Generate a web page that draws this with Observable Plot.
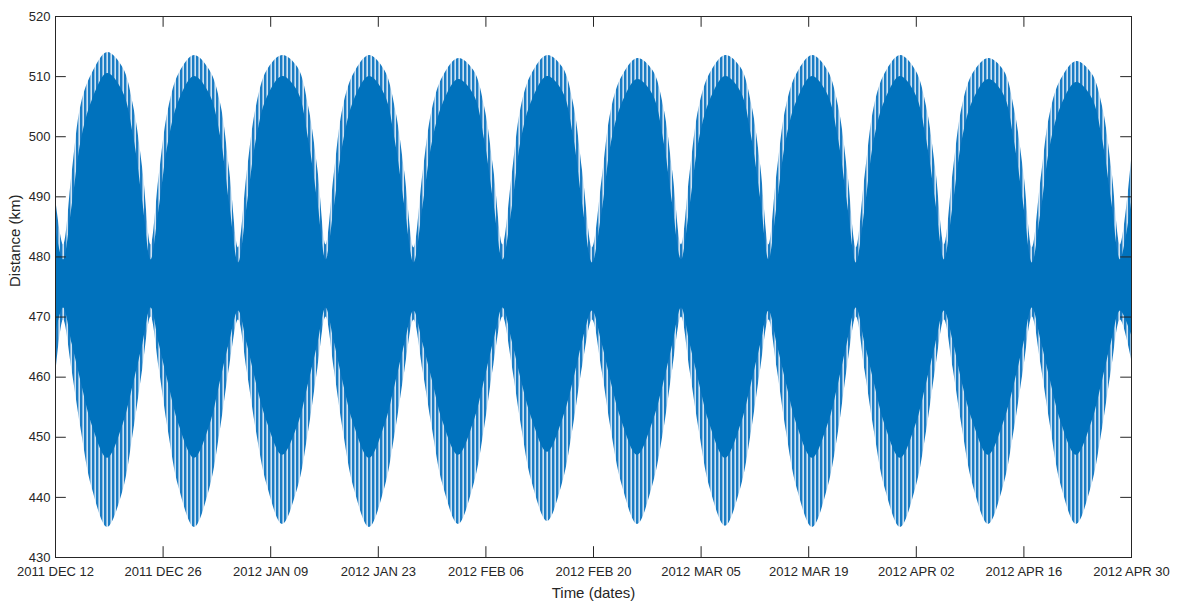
<!DOCTYPE html>
<html>
<head>
<meta charset="utf-8">
<script src="https://cdn.jsdelivr.net/npm/d3@7"></script>
<script src="https://cdn.jsdelivr.net/npm/@observablehq/plot@0.6"></script>
<style>
  html, body { margin: 0; padding: 0; background: #fff; }
  #chart { width: 1178px; height: 601px; }
  svg { font-family: "Liberation Sans", Arial, sans-serif; }
</style>
</head>
<body>
<div id="chart"></div>
<script>
// ---- Data ----
// time axis: days after 2011 DEC 12 00:00
const dayOffset = [0, 1.04,
  2.17,3.37,4.77,6.77,8.77,10.17,11.37, 12.43,
  13.49,14.69,16.09,18.09,20.09,21.49,22.69, 23.81,
  24.94,26.14,27.54,29.54,31.54,32.94,34.14, 35.2,
  36.25,37.45,38.85,40.85,42.85,44.25,45.45, 46.64,
  47.83,49.03,50.43,52.43,54.43,55.83,57.03, 58.22,
  59.41,60.61,62.01,64.01,66.01,67.41,68.61, 69.87,
  71.13,72.33,73.73,75.73,77.73,79.13,80.33, 81.45,
  82.57,83.77,85.17,87.17,89.17,90.57,91.77, 92.83,
  93.89,95.09,96.49,98.49,100.49,101.89,103.09, 104.2,
  105.34,106.54,107.94,109.94,111.94,113.34,114.54, 115.66,
  116.79,117.99,119.39,121.39,123.39,124.79,125.99, 127.1,
  128.24,129.44,130.84,132.84,134.84,136.24,137.44, 138.57,
  140];

// outer (spike tips) envelope, km
const upperSpike = [490, 482,
  494,505.5,510.5,514,511.5,505,494.5, 482,
  493.5,504.5,510.5,513.5,511,505.5,494, 481.5,
  494,505,511,513.5,511.5,505,494.5, 482,
  493.5,505,510.5,513.5,511,504.5,494, 481.5,
  494,504.5,510,513,511,505,494.5, 482,
  493.5,505,510.5,513.5,511.5,505.5,494, 481.5,
  493,504.5,510,513,511,505,494, 482,
  494,505,510.5,513.5,511.5,505.5,495, 482,
  494,505,510.5,513.5,511,505,494, 481.5,
  493.5,505,510.5,513.5,511,505,494.5, 482,
  494,505,510.5,513,511,504.5,494, 481.5,
  493,504,509.5,512.5,510.5,505,494.5, 482,
  496];

const lowerSpike = [460, 469.5,
  461,451,441.5,435,441,451,461.5, 470,
  461.5,451,441.5,435,441.5,451.5,462, 469.5,
  461,451,442,435.5,441.5,451,461.5, 470,
  461.5,451,441.5,435,441.5,451,461, 469.5,
  461,451.5,442,435.5,442,451.5,462, 470,
  462,452,442.5,436,442.5,452,462, 469.5,
  461,451,442,435.5,442,451,461.5, 470,
  461,451,441.5,435.2,441.5,451,461.5, 469.5,
  461.5,451,441.5,435,441.5,451,462, 470,
  461,451,441.5,435,441.5,451,461.5, 469.5,
  461.5,451.5,442,435.5,442,451.5,461.5, 470,
  462,452,442,435.5,442,451.5,461.5, 469.5,
  463];

// dense (solid) core envelope, km
const upperCore = [485, 479.5,
  488.5,499.5,506,510.5,507.5,500,489, 479.5,
  488,499,506,510,507,500,488.5, 479,
  488.5,499.5,506.5,510,507.5,499.5,489, 479.5,
  488,499,506,510,507,499,488.5, 479,
  488.5,499,505.5,509.5,507,499.5,489, 479.5,
  488,499.5,506,510,507.5,500,488.5, 479,
  487.5,499,505.5,509.5,507,499.5,488.5, 479.5,
  488.5,499.5,506,510,507.5,500,489.5, 479.5,
  488.5,499.5,506,510,507,499.5,488.5, 479,
  488,499.5,506,510,507,499.5,489, 479.5,
  488.5,499.5,506,509.5,507,499,488.5, 479,
  487.5,498.5,505,509,506.5,499.5,489, 479.5,
  489];

const lowerCore = [467, 471.5,
  465.5,459,452,446.5,452,459,465.5, 471.5,
  465.5,459,452,446.5,452,459.5,466, 471,
  465.5,459,452.5,447,452,459,465.5, 471.5,
  466,459,452,446.5,452,459,465.5, 471,
  465.5,459.5,452.5,447,452.5,459.5,466, 471.5,
  466,459.5,453,447.5,453,459.5,466, 471,
  465.5,459,452.5,447,452.5,459,465.5, 471.5,
  465.5,459,452,446.5,452,459,465.5, 471,
  465.5,459,452,446.5,452,459,466, 471.5,
  465.5,459,452,446.5,452,459,465.5, 471,
  466,459,452.5,447,452.5,459,465.5, 471.5,
  466,459.5,452.5,447,452.5,459.5,466, 471,
  467];

// axis ticks
const tickDays = [0, 14, 28, 42, 56, 70, 84, 98, 112, 126, 140];
const tickLabels = ["2011 DEC 12", "2011 DEC 26", "2012 JAN 09", "2012 JAN 23",
  "2012 FEB 06", "2012 FEB 20", "2012 MAR 05", "2012 MAR 19",
  "2012 APR 02", "2012 APR 16", "2012 APR 30"];
const yTicks = [430, 440, 450, 460, 470, 480, 490, 500, 510, 520];

// ---- Build table ----
const start = Date.UTC(2011, 11, 12);
const DAY = 864e5;
const toDate = d => new Date(start + d * DAY);
const rows = dayOffset.map((d, i) => ({
  t: toDate(d),
  us: upperSpike[i], ls: lowerSpike[i],
  uc: upperCore[i], lc: lowerCore[i]
}));
const tickDates = tickDays.map(toDate);
const labelOf = d => tickLabels[tickDays.indexOf(Math.round((+d - start) / DAY))];

const W = 1178, H = 601;
const mL = 55, mR = 47, mT = 16, mB = 44;
const yMin = 430, yMax = 520;
const xMin = toDate(0), xMax = toDate(140);
// inward tick length ~10.8 px expressed in data units
const tickPx = 10.8;
const tickKm = tickPx * (yMax - yMin) / (H - mT - mB);
const tickDaysLen = tickPx * 140 / (W - mL - mR);

const axisColor = "#262626";
const lineBlue = "#0072BD";

const chart = Plot.plot({
  width: W,
  height: H,
  marginLeft: mL, marginRight: mR, marginTop: mT, marginBottom: mB,
  style: { fontFamily: "'Liberation Sans', Arial, sans-serif", fontSize: "13px", color: axisColor, background: "#fff" },
  x: { type: "utc", domain: [xMin, xMax] },
  y: { domain: [yMin, yMax] },
  marks: [
    // spiky fringe (striped texture) between spike tips and the dense core
    Plot.areaY(rows, { x: "t", y1: "ls", y2: "us", fill: "url(#spikes)", curve: "catmull-rom" }),
    Plot.areaY(rows, { x: "t", y1: "lc", y2: "uc", fill: lineBlue, curve: "catmull-rom" }),
    // inward ticks (bottom & top)
    Plot.ruleX(tickDates, { x: d => d, y1: yMin, y2: yMin + tickKm, stroke: axisColor, strokeWidth: 1 }),
    Plot.ruleX(tickDates, { x: d => d, y1: yMax - tickKm, y2: yMax, stroke: axisColor, strokeWidth: 1 }),
    // inward ticks (left & right)
    Plot.ruleY(yTicks, { y: d => d, x1: xMin, x2: toDate(tickDaysLen), stroke: axisColor, strokeWidth: 1 }),
    Plot.ruleY(yTicks, { y: d => d, x1: toDate(140 - tickDaysLen), x2: xMax, stroke: axisColor, strokeWidth: 1 }),
    Plot.frame({ stroke: axisColor, strokeWidth: 1 }),
    Plot.axisX(tickDates, { anchor: "bottom", tickSize: 0, tickPadding: 9, tickFormat: labelOf, label: null, fill: axisColor, fontSize: 13 }),
    Plot.axisY(yTicks, { anchor: "left", tickSize: 0, tickPadding: 5, label: null, fill: axisColor, fontSize: 13 }),
    Plot.text(["Time (dates)"], { frameAnchor: "bottom", dy: 36, text: d => d, fontSize: 15, fill: axisColor, lineAnchor: "middle" }),
    Plot.text(["Distance (km)"], { frameAnchor: "left", dx: -40, rotate: -90, text: d => d, fontSize: 15, fill: axisColor, lineAnchor: "middle" })
  ]
});

// striped pattern that imitates the dense vertical oscillation strokes
const defs = d3.select(chart).insert("defs", ":first-child");
const pat = defs.append("pattern")
  .attr("id", "spikes")
  .attr("patternUnits", "userSpaceOnUse")
  .attr("width", 4).attr("height", 8);
pat.append("rect").attr("x", 0).attr("y", 0).attr("width", 4).attr("height", 8).attr("fill", "#cfe3f3");
pat.append("rect").attr("x", 0).attr("y", 0).attr("width", 2.4).attr("height", 8).attr("fill", "#1a7cc4");

document.getElementById("chart").appendChild(chart);
</script>
</body>
</html>
